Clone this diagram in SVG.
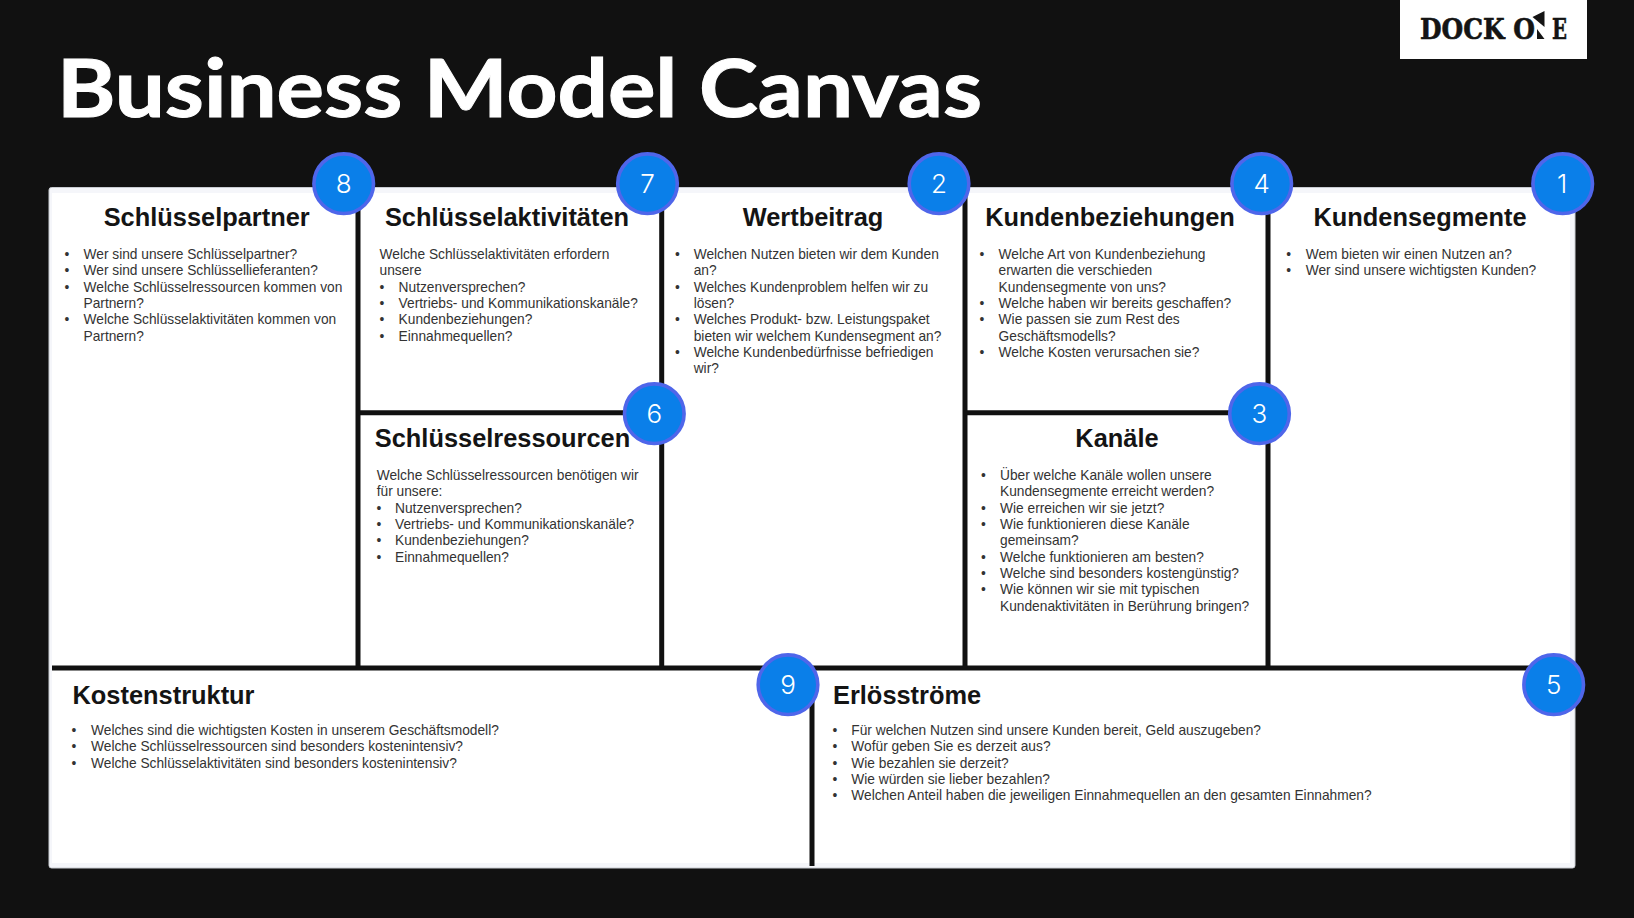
<svg xmlns="http://www.w3.org/2000/svg" width="1634" height="918" viewBox="0 0 1634 918">
<style>
.h{font-family:"Liberation Sans",Arial,sans-serif;font-weight:700;font-size:25.4px;fill:#141414}
.m{text-anchor:middle}
.t{font-family:"Liberation Sans",Arial,sans-serif;font-size:13.75px;fill:#333}
.b{font-family:"Liberation Sans",Arial,sans-serif;font-size:13.75px;fill:#333;text-anchor:middle}
.c{fill:#0a7fe9;stroke:#4f66ea;stroke-width:3.6}
.n{font-family:Inter,"Open Sans",sans-serif;font-weight:300;font-size:26px;fill:#fff;text-anchor:middle}
.l{stroke:#111;stroke-width:5;fill:none}
.g{font-family:"DejaVu Serif",serif;font-weight:700;font-size:28px;fill:#141414;stroke:#141414;stroke-width:.6}
</style>
<rect width="1634" height="918" fill="#111"/>
<text x="57" y="116.5" font-family="Lato,'Open Sans',sans-serif" font-weight="700" font-size="80" fill="#fff" stroke="#fff" stroke-width="1" textLength="925" lengthAdjust="spacingAndGlyphs">Business Model Canvas</text>
<g id="logo">
<rect x="1400" y="-2" width="187" height="61" fill="#fff"/>
<text class="g" x="1420" y="39" textLength="115" lengthAdjust="spacingAndGlyphs">DOCK O</text>
<polygon points="1532.5,17 1544.5,11 1544.5,27" fill="#141414"/>
<polygon points="1537,29 1544.5,39 1537,39" fill="#141414"/>
<text class="g" x="1552" y="39" textLength="15" lengthAdjust="spacingAndGlyphs">E</text>
</g>
<g id="canvas-background">
<rect x="49" y="187.5" width="1526" height="680.5" rx="2.5" fill="#f5f6fa" stroke="#c9ccd2" stroke-width="1"/>
<rect x="52" y="193" width="1518" height="670" fill="#fff"/>
</g>
<g id="connectors">
<path class="l" d="M52 668H1550"/>
<path class="l" d="M358 190V668"/>
<path class="l" d="M661.7 190V668"/>
<path class="l" d="M965 190V668"/>
<path class="l" d="M1268 190V668"/>
<path class="l" d="M358 412.7H655"/>
<path class="l" d="M965 412.7H1260"/>
<path class="l" d="M812 668V866"/>
</g>
<g id="schluesselpartner">
<text class="h m" x="206.7" y="226">Schlüsselpartner</text>
<text class="b" x="67" y="259">•</text><text class="t" x="83.5" y="259">Wer sind unsere Schlüsselpartner?</text>
<text class="b" x="67" y="275.3">•</text><text class="t" x="83.5" y="275.3">Wer sind unsere Schlüssellieferanten?</text>
<text class="b" x="67" y="291.7">•</text><text class="t" x="83.5" y="291.7">Welche Schlüsselressourcen kommen von</text>
<text class="t" x="83.5" y="308">Partnern?</text>
<text class="b" x="67" y="324.3">•</text><text class="t" x="83.5" y="324.3">Welche Schlüsselaktivitäten kommen von</text>
<text class="t" x="83.5" y="340.7">Partnern?</text>
</g>
<g id="schluesselaktivitaeten">
<text class="h m" x="507" y="226">Schlüsselaktivitäten</text>
<text class="t" x="379.5" y="259">Welche Schlüsselaktivitäten erfordern</text>
<text class="t" x="379.5" y="275.3">unsere</text>
<text class="b" x="382" y="291.7">•</text><text class="t" x="398.6" y="291.7">Nutzenversprechen?</text>
<text class="b" x="382" y="308">•</text><text class="t" x="398.6" y="308">Vertriebs- und Kommunikationskanäle?</text>
<text class="b" x="382" y="324.3">•</text><text class="t" x="398.6" y="324.3">Kundenbeziehungen?</text>
<text class="b" x="382" y="340.7">•</text><text class="t" x="398.6" y="340.7">Einnahmequellen?</text>
</g>
<g id="schluesselressourcen">
<text class="h m" x="502.5" y="447">Schlüsselressourcen</text>
<text class="t" x="376.7" y="480">Welche Schlüsselressourcen benötigen wir</text>
<text class="t" x="376.7" y="496.3">für unsere:</text>
<text class="b" x="379" y="512.7">•</text><text class="t" x="395" y="512.7">Nutzenversprechen?</text>
<text class="b" x="379" y="529">•</text><text class="t" x="395" y="529">Vertriebs- und Kommunikationskanäle?</text>
<text class="b" x="379" y="545.3">•</text><text class="t" x="395" y="545.3">Kundenbeziehungen?</text>
<text class="b" x="379" y="561.7">•</text><text class="t" x="395" y="561.7">Einnahmequellen?</text>
</g>
<g id="wertbeitrag">
<text class="h m" x="813" y="226">Wertbeitrag</text>
<text class="b" x="677.3" y="259">•</text><text class="t" x="693.7" y="259">Welchen Nutzen bieten wir dem Kunden</text>
<text class="t" x="693.7" y="275.3">an?</text>
<text class="b" x="677.3" y="291.7">•</text><text class="t" x="693.7" y="291.7">Welches Kundenproblem helfen wir zu</text>
<text class="t" x="693.7" y="308">lösen?</text>
<text class="b" x="677.3" y="324.3">•</text><text class="t" x="693.7" y="324.3">Welches Produkt- bzw. Leistungspaket</text>
<text class="t" x="693.7" y="340.7">bieten wir welchem Kundensegment an?</text>
<text class="b" x="677.3" y="357">•</text><text class="t" x="693.7" y="357">Welche Kundenbedürfnisse befriedigen</text>
<text class="t" x="693.7" y="373.3">wir?</text>
</g>
<g id="kundenbeziehungen">
<text class="h m" x="1110" y="226">Kundenbeziehungen</text>
<text class="b" x="981.8" y="259">•</text><text class="t" x="998.6" y="259">Welche Art von Kundenbeziehung</text>
<text class="t" x="998.6" y="275.3">erwarten die verschieden</text>
<text class="t" x="998.6" y="291.7">Kundensegmente von uns?</text>
<text class="b" x="981.8" y="308">•</text><text class="t" x="998.6" y="308">Welche haben wir bereits geschaffen?</text>
<text class="b" x="981.8" y="324.3">•</text><text class="t" x="998.6" y="324.3">Wie passen sie zum Rest des</text>
<text class="t" x="998.6" y="340.7">Geschäftsmodells?</text>
<text class="b" x="981.8" y="357">•</text><text class="t" x="998.6" y="357">Welche Kosten verursachen sie?</text>
</g>
<g id="kanaele">
<text class="h m" x="1117" y="447">Kanäle</text>
<text class="b" x="983.3" y="480">•</text><text class="t" x="1000" y="480">Über welche Kanäle wollen unsere</text>
<text class="t" x="1000" y="496.3">Kundensegmente erreicht werden?</text>
<text class="b" x="983.3" y="512.7">•</text><text class="t" x="1000" y="512.7">Wie erreichen wir sie jetzt?</text>
<text class="b" x="983.3" y="529">•</text><text class="t" x="1000" y="529">Wie funktionieren diese Kanäle</text>
<text class="t" x="1000" y="545.3">gemeinsam?</text>
<text class="b" x="983.3" y="561.7">•</text><text class="t" x="1000" y="561.7">Welche funktionieren am besten?</text>
<text class="b" x="983.3" y="578">•</text><text class="t" x="1000" y="578">Welche sind besonders kostengünstig?</text>
<text class="b" x="983.3" y="594.3">•</text><text class="t" x="1000" y="594.3">Wie können wir sie mit typischen</text>
<text class="t" x="1000" y="610.7">Kundenaktivitäten in Berührung bringen?</text>
</g>
<g id="kundensegmente">
<text class="h m" x="1420" y="226">Kundensegmente</text>
<text class="b" x="1288.7" y="259">•</text><text class="t" x="1305.7" y="259">Wem bieten wir einen Nutzen an?</text>
<text class="b" x="1288.7" y="275.3">•</text><text class="t" x="1305.7" y="275.3">Wer sind unsere wichtigsten Kunden?</text>
</g>
<g id="kostenstruktur">
<text class="h" x="72.5" y="704">Kostenstruktur</text>
<text class="b" x="74" y="735">•</text><text class="t" x="91" y="735">Welches sind die wichtigsten Kosten in unserem Geschäftsmodell?</text>
<text class="b" x="74" y="751.3">•</text><text class="t" x="91" y="751.3">Welche Schlüsselressourcen sind besonders kostenintensiv?</text>
<text class="b" x="74" y="767.7">•</text><text class="t" x="91" y="767.7">Welche Schlüsselaktivitäten sind besonders kostenintensiv?</text>
</g>
<g id="erloesstroeme">
<text class="h" x="833" y="704">Erlösströme</text>
<text class="b" x="835" y="735">•</text><text class="t" x="851.3" y="735">Für welchen Nutzen sind unsere Kunden bereit, Geld auszugeben?</text>
<text class="b" x="835" y="751.3">•</text><text class="t" x="851.3" y="751.3">Wofür geben Sie es derzeit aus?</text>
<text class="b" x="835" y="767.7">•</text><text class="t" x="851.3" y="767.7">Wie bezahlen sie derzeit?</text>
<text class="b" x="835" y="784">•</text><text class="t" x="851.3" y="784">Wie würden sie lieber bezahlen?</text>
<text class="b" x="835" y="800.3">•</text><text class="t" x="851.3" y="800.3">Welchen Anteil haben die jeweiligen Einnahmequellen an den gesamten Einnahmen?</text>
</g>
<g id="badge-8"><circle class="c" cx="343.7" cy="183.7" r="29.8"/><text class="n" x="343.7" y="193">8</text></g>
<g id="badge-7"><circle class="c" cx="647.5" cy="183.7" r="29.8"/><text class="n" x="647.5" y="193">7</text></g>
<g id="badge-2"><circle class="c" cx="939" cy="183.7" r="29.8"/><text class="n" x="939" y="193">2</text></g>
<g id="badge-4"><circle class="c" cx="1261.7" cy="183.7" r="29.8"/><text class="n" x="1261.7" y="193">4</text></g>
<g id="badge-1"><circle class="c" cx="1562.7" cy="183.7" r="29.8"/><text class="n" x="1562" y="193">1</text></g>
<g id="badge-6"><circle class="c" cx="654.3" cy="413.7" r="29.8"/><text class="n" x="654.3" y="423">6</text></g>
<g id="badge-3"><circle class="c" cx="1259.5" cy="413.7" r="29.8"/><text class="n" x="1259.5" y="423">3</text></g>
<g id="badge-9"><circle class="c" cx="788" cy="684.7" r="29.8"/><text class="n" x="788" y="694">9</text></g>
<g id="badge-5"><circle class="c" cx="1553.7" cy="684.7" r="29.8"/><text class="n" x="1553.7" y="694">5</text></g>
</svg>
